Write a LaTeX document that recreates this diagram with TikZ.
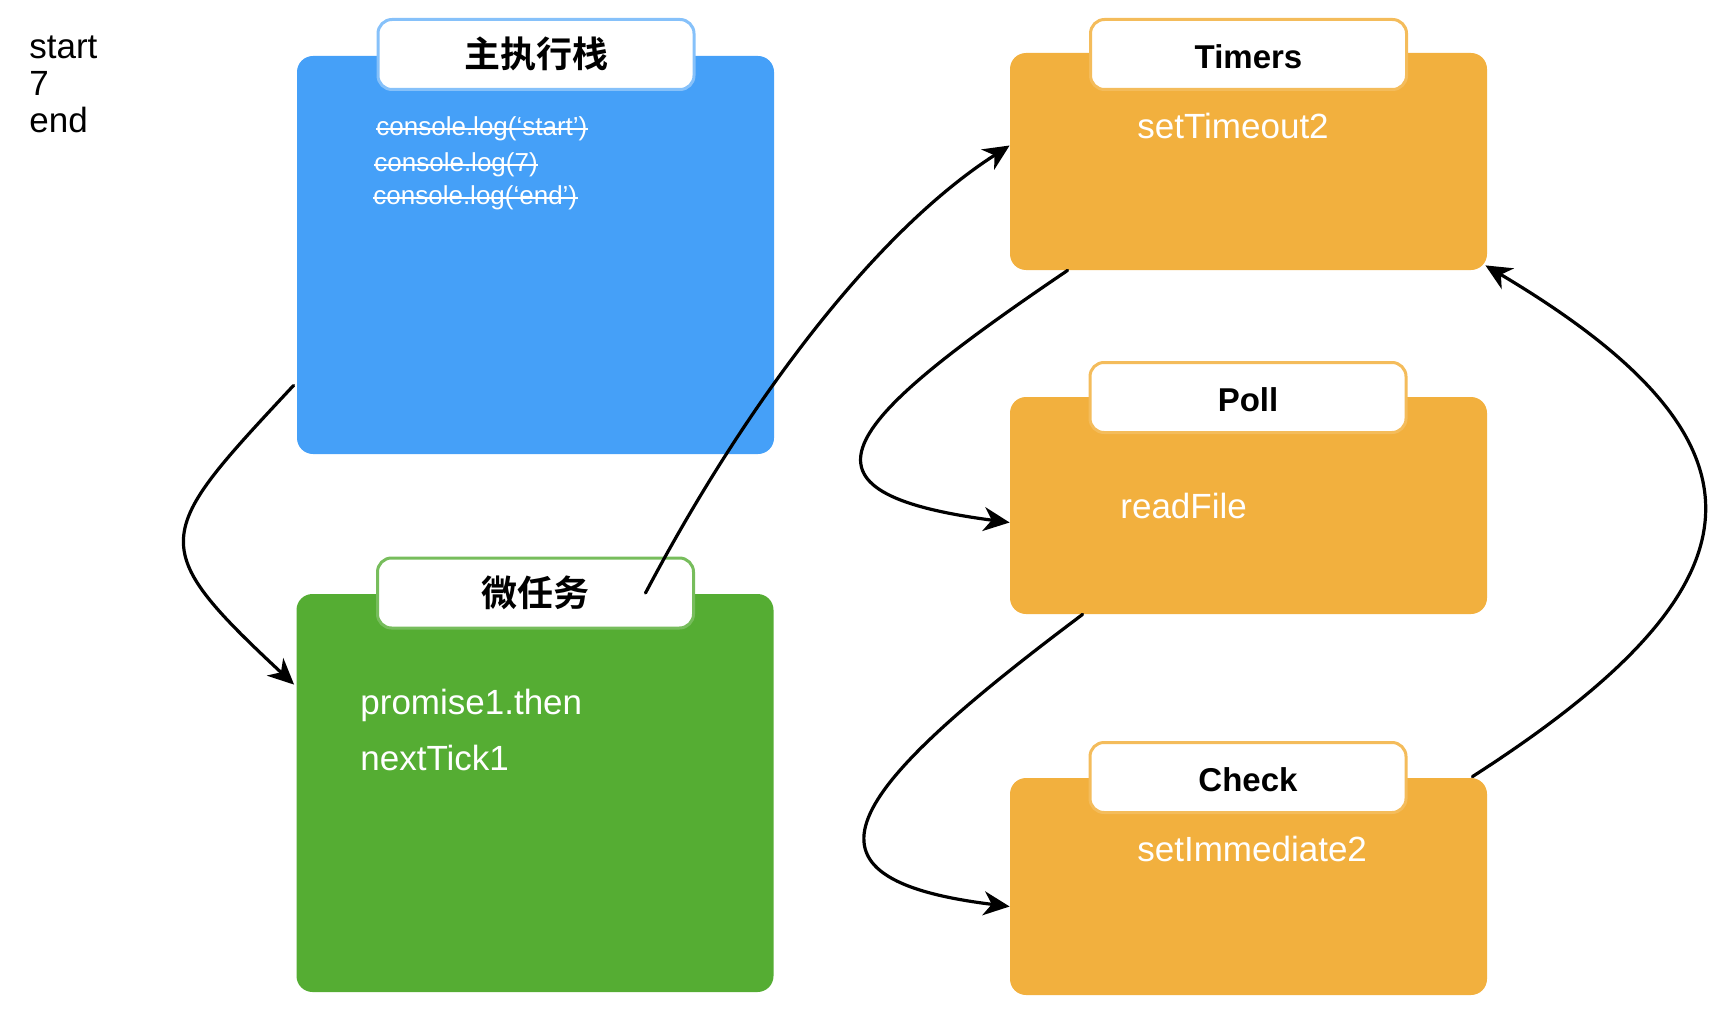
\documentclass[tikz,border=0pt]{standalone}
\usepackage{fontspec}
\setmainfont{Liberation Sans}
\newfontfamily\cjk{Noto Sans CJK SC}[BoldFont={Noto Sans CJK SC Bold}]
\usetikzlibrary{arrows.meta,calc}
\definecolor{stackblue}{HTML}{45A0F8}
\definecolor{taskgreen}{HTML}{55AD33}
\definecolor{phaseorange}{HTML}{F2B03E}

\begin{document}
\begin{tikzpicture}[x=0.5pt, y=-0.5pt,
  box/.style={rectangle, rounded corners=8pt, minimum width=238.5pt, inner sep=0pt},
  phase/.style={box, fill=phaseorange, minimum height=108.5pt},
  head/.style={rectangle, rounded corners=7pt, fill=white, line width=1.5pt,
    minimum width=158pt, minimum height=35pt, inner sep=0pt, text height=14pt,
    font=\bfseries\fontsize{16.5}{20}\selectfont},
  cjkhead/.style={head, text height=15pt, font=\bfseries\fontsize{18}{20}\selectfont},
  item/.style={anchor=base west, inner sep=0pt, text=white,
    font=\fontsize{17.5}{20}\selectfont},
  codeline/.style={item, font=\fontsize{13}{15}\selectfont},
  strike/.style={white, line width=1pt},
  flow/.style={-{Stealth[length=13pt, width=12pt, inset=4pt]}, line width=1.6pt, line cap=round}]
  \useasboundingbox (0,0) rectangle (1712,1032);

  % --- printed output ---
  \node[anchor=north west, align=left, inner sep=0pt,
    font=\fontsize{17.5}{18.5}\selectfont] (output) at (29,35) {start\\7\\end};

  % --- main stack ---
  \node[box, fill=stackblue, minimum height=199pt] (stack) at (535.5,255) {};
  \node[cjkhead, draw=stackblue!65] (stackhead) at (536,54.5) {\cjk 主执行栈};
  \node[codeline] (log1) at (376,136) {console.log(‘start’)};
  \node[codeline] (log2) at (374,172) {console.log(7)};
  \node[codeline] (log3) at (373,205) {console.log(‘end’)};
  \foreach \n in {log1,log2,log3}
    \draw[strike] (\n.west) -- (\n.east);

  % --- micro tasks ---
  \node[box, fill=taskgreen, minimum height=199pt] (micro) at (535,793) {};
  \node[cjkhead, draw=taskgreen!80] (microhead) at (535.5,593) {\cjk 微任务};
  \node[item] (then1) at (360,714) {promise1.then};
  \node[item] (tick1) at (360,770) {nextTick1};

  % --- event loop phases ---
  \node[phase] (timers) at (1248.5,161.5) {};
  \node[head, draw=phaseorange!85] (timershead) at (1248.5,54.5) {Timers};
  \node[item] (timeout2) at (1137,139) {setTimeout2};

  \node[phase] (poll) at (1248.5,505.5) {};
  \node[head, draw=phaseorange!85] (pollhead) at (1248,397.5) {Poll};
  \node[item] (readfile) at (1120,518) {readFile};

  \node[phase] (check) at (1248.5,886.5) {};
  \node[head, draw=phaseorange!85] (checkhead) at (1248,777.5) {Check};
  \node[item] (immediate2) at (1137,861) {setImmediate2};

  % --- arrows ---
  \draw[flow] ($(stack.south west)+(-3,-69)$) .. controls +(-140,150) and +(-150,-140) .. ($(micro.north west)+(-2,91)$);
  \draw[flow] ($(microhead.center)+(110,0)$) .. controls +(95,-180) and +(-140,90) .. ($(timers.west)+(0,-16)$);
  \draw[flow] ($(timers.south west)+(58,0)$) .. controls +(-232,157) and +(-228,-30) .. ($(poll.west)+(0,17)$);
  \draw[flow] ($(poll.south west)+(73,0)$) .. controls +(-240,180) and +(-228,-28) .. ($(check.west)+(0,20)$);
  \draw[flow] ($(check.north east)+(-15,-1)$) .. controls +(296,-190) and +(303,180) .. ($(timers.south east)+(-2,-5)$);
\end{tikzpicture}
\end{document}
